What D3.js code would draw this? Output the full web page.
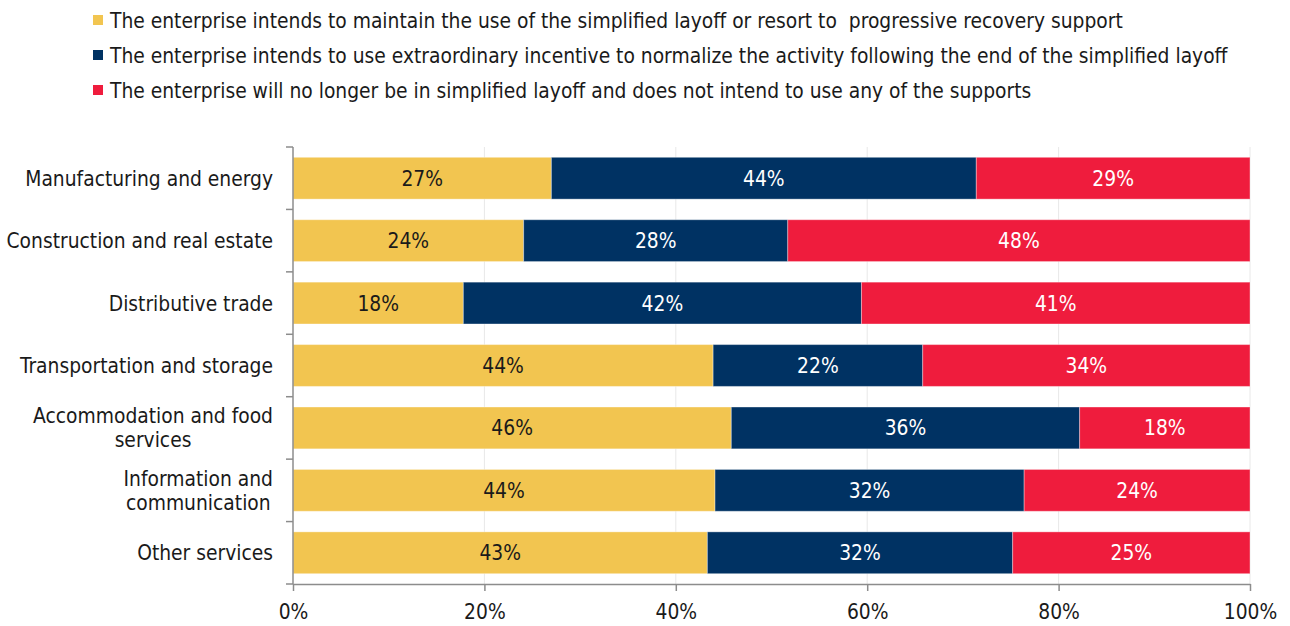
<!DOCTYPE html>
<html>
<head>
<meta charset="utf-8">
<script src="https://cdn.jsdelivr.net/npm/d3@7"></script>
<style>
  body { margin: 0; background: #fff; }
  svg text { font-family: 'DejaVu Sans Condensed', 'DejaVu Sans', sans-serif; fill: #1a1a1a; }
</style>
</head>
<body>
<div id="chart"></div>
<script>
var categories = [
  ['Manufacturing and energy'],
  ['Construction and real estate'],
  ['Distributive trade'],
  ['Transportation and storage'],
  ['Accommodation and food', 'services'],
  ['Information and', 'communication'],
  ['Other services']
]
var seriesNames = [
  'The enterprise intends to maintain the use of the simplified layoff or resort to  progressive recovery support',
  'The enterprise intends to use extraordinary incentive to normalize the activity following the end of the simplified layoff',
  'The enterprise will no longer be in simplified layoff and does not intend to use any of the supports'
]
var maintainValues = [27.0, 24.1, 17.8, 43.9, 45.8, 44.1, 43.3]
var incentiveValues = [44.4, 27.6, 41.6, 21.9, 36.4, 32.3, 31.9]
var noSupportValues = [28.6, 48.3, 40.6, 34.2, 17.8, 23.6, 24.8]
var xTicks = [0, 20, 40, 60, 80, 100]

var colors = ['#f2c550', '#003263', '#ef1c3d']
var labelColors = ['#1a1a1a', '#ffffff', '#ffffff']
var fontSize = '20.8px'

var width = 1290
var height = 626
var margin = { top: 147, right: 40, bottom: 42, left: 293 }

var svg = d3.select('#chart').append('svg')
  .attr('width', width)
  .attr('height', height)

var x = d3.scaleLinear()
  .domain([0, 100])
  .range([margin.left, width - margin.right])

var y = d3.scaleBand()
  .domain(d3.range(categories.length))
  .range([margin.top, height - margin.bottom])
  .paddingInner(0.33)
  .paddingOuter(0.165)

var rows = categories.map(function (c, i) {
  return { i: i, values: [maintainValues[i], incentiveValues[i], noSupportValues[i]] }
})

// gridlines
svg.append('g')
  .selectAll('line')
  .data(xTicks.slice(1))
  .enter().append('line')
  .attr('x1', function (d) { return x(d) })
  .attr('x2', function (d) { return x(d) })
  .attr('y1', margin.top)
  .attr('y2', height - margin.bottom)
  .attr('stroke', '#e8e8e8')
  .attr('stroke-width', 1)

// bars
var rowG = svg.append('g').selectAll('g')
  .data(rows)
  .enter().append('g')

rowG.each(function (row) {
  var g = d3.select(this)
  var acc = 0
  row.values.forEach(function (v, k) {
    var x0 = acc
    acc += v
    g.append('rect')
      .attr('x', x(x0))
      .attr('y', y(row.i))
      .attr('width', x(acc) - x(x0))
      .attr('height', y.bandwidth())
      .attr('fill', colors[k])
      .attr('stroke', 'rgba(255,255,255,0.35)')
      .attr('stroke-width', 1)
    g.append('text')
      .attr('x', (x(x0) + x(acc)) / 2)
      .attr('y', y(row.i) + y.bandwidth() / 2)
      .attr('dy', '0.36em')
      .attr('text-anchor', 'middle')
      .style('font-size', fontSize)
      .style('fill', labelColors[k])
      .text(Math.round(v) + '%')
  })
})

// y axis line and ticks
var axisColor = '#8c8c8c'
svg.append('line')
  .attr('x1', margin.left).attr('x2', margin.left)
  .attr('y1', margin.top).attr('y2', height - margin.bottom)
  .attr('stroke', axisColor).attr('stroke-width', 1.5)

var bandEdges = d3.range(categories.length + 1).map(function (i) {
  return margin.top + i * y.step()
})
svg.append('g').selectAll('line')
  .data(bandEdges)
  .enter().append('line')
  .attr('x1', margin.left - 7).attr('x2', margin.left)
  .attr('y1', function (d) { return d }).attr('y2', function (d) { return d })
  .attr('stroke', axisColor).attr('stroke-width', 1.5)

// x axis
var xAxis = d3.axisBottom(x)
  .tickValues(xTicks)
  .tickSize(7)
  .tickSizeOuter(0)
  .tickFormat(function (d) { return d + '%' })

var xg = svg.append('g')
  .attr('transform', 'translate(0,' + (height - margin.bottom) + ')')
  .call(xAxis)
xg.select('.domain').attr('stroke', axisColor).attr('stroke-width', 1.5)
xg.selectAll('.tick line').attr('stroke', axisColor).attr('stroke-width', 1.5)
xg.selectAll('.tick text')
  .attr('y', 20)
  .attr('dy', '0.71em')
  .style('font-size', fontSize)
  .style('font-family', "'DejaVu Sans Condensed', 'DejaVu Sans', sans-serif")
  .style('fill', '#1a1a1a')

// category labels: centered lines, block right-aligned
var labelRight = 273
categories.forEach(function (lines, i) {
  var cy = y(i) + y.bandwidth() / 2
  var t = svg.append('text')
    .attr('text-anchor', 'middle')
    .style('font-size', fontSize)
  var lineH = 24
  var spans = lines.map(function (line, j) {
    return t.append('tspan')
      .attr('y', cy + (j - (lines.length - 1) / 2) * lineH)
      .attr('dy', '0.36em')
      .text(line)
  })
  var maxW = d3.max(spans, function (s) { return s.node().getComputedTextLength() })
  spans.forEach(function (s) { s.attr('x', labelRight - maxW / 2) })
})

// legend
var legend = svg.append('g').selectAll('g')
  .data(seriesNames)
  .enter().append('g')
  .attr('transform', function (d, i) { return 'translate(93,' + (20 + i * 35) + ')' })

legend.append('rect')
  .attr('x', 0).attr('y', -5)
  .attr('width', 10).attr('height', 10)
  .attr('fill', function (d, i) { return colors[i] })

legend.append('text')
  .attr('x', 17)
  .attr('dy', '0.36em')
  .style('font-size', fontSize)
  .style('white-space', 'pre')
  .text(function (d) { return d })
</script>
</body>
</html>
